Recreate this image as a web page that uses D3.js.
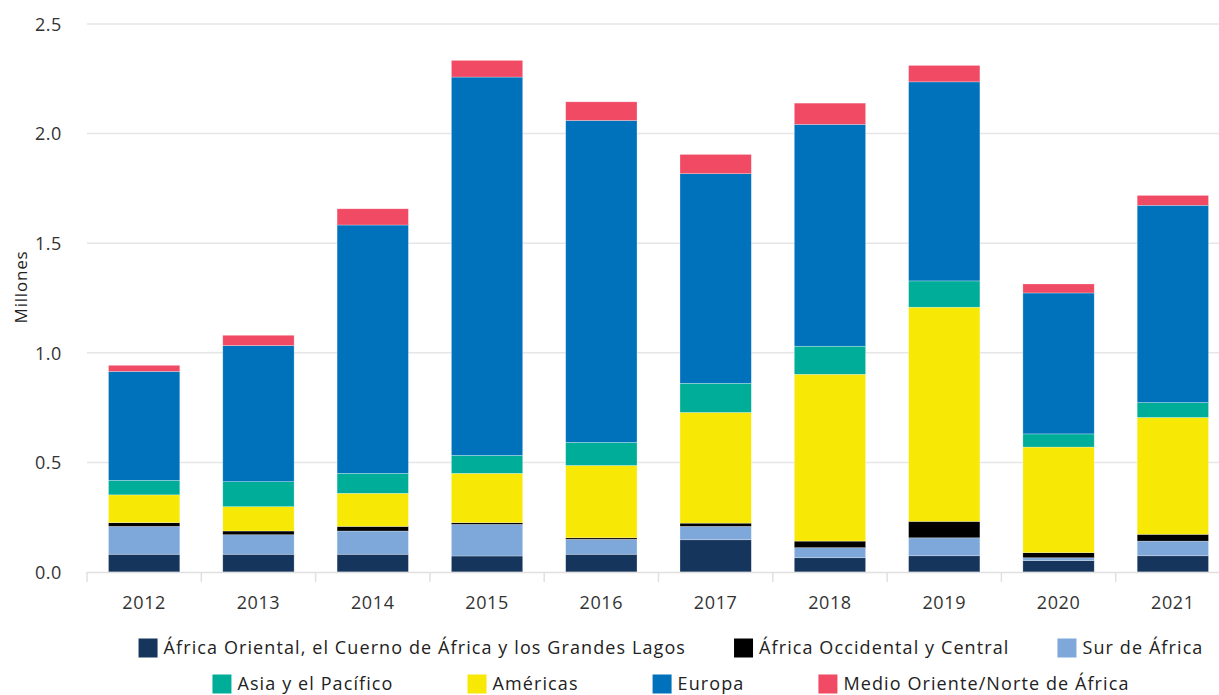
<!DOCTYPE html>
<html><head><meta charset="utf-8">
<script src="https://cdn.jsdelivr.net/npm/d3@7"></script>
<style>
html,body{margin:0;padding:0;background:#fff;}
svg{display:block;font-family:"Open Sans",Lato,sans-serif;}
</style></head>
<body>
<svg id="chart" width="1219" height="695"></svg>
<script>
const years = ["2012","2013","2014","2015","2016","2017","2018","2019","2020","2021"];
const seriesNames = [
  "África Oriental, el Cuerno de África y los Grandes Lagos",
  "África Occidental y Central",
  "Sur de África",
  "Asia y el Pacífico",
  "Américas",
  "Europa",
  "Medio Oriente/Norte de África"
];
const colors = ["#16355c","#000000","#7ea8d9","#00ad98","#f8e805","#0072bc","#f04a64"];
const africaOriental   = [0.081,0.081,0.081,0.073,0.081,0.147,0.065,0.074,0.052,0.074];
const africaOccidental = [0.017,0.017,0.021,0.008,0.007,0.015,0.030,0.075,0.023,0.031];
const surAfrica        = [0.127,0.089,0.106,0.144,0.068,0.061,0.046,0.082,0.013,0.067];
const asiaPacifico     = [0.066,0.114,0.091,0.082,0.105,0.133,0.128,0.120,0.060,0.068];
const americas         = [0.127,0.111,0.151,0.225,0.330,0.505,0.761,0.977,0.482,0.533];
const europa           = [0.497,0.621,1.133,1.726,1.469,0.956,1.012,0.908,0.643,0.900];
const medioOriente     = [0.028,0.047,0.074,0.076,0.085,0.088,0.097,0.075,0.041,0.045];
const yTicks = [0,0.5,1.0,1.5,2.0,2.5];
const yLabel = "Millones";

const seriesValues = [africaOriental, africaOccidental, surAfrica, asiaPacifico, americas, europa, medioOriente];
// stacking order bottom -> top (indices into seriesNames)
const stackOrder = [0,2,1,4,3,5,6];

const rows = years.map((yr,i)=>{
  const r = {year:yr};
  seriesNames.forEach((n,k)=>{ r[n] = seriesValues[k][i]; });
  return r;
});

const FONT = "'Open Sans', Lato, sans-serif";
const svg = d3.select("#chart");
const mLeft = 87, mRight = 1230, mTop = 24, mBottom = 572;

const x = d3.scaleBand().domain(years).range([mLeft,mRight]).paddingInner(0.376).paddingOuter(0.188);
const y = d3.scaleLinear().domain([0,2.5]).range([mBottom,mTop]);

// gridlines
svg.append("g").selectAll("line").data(yTicks.filter(d=>d>0)).join("line")
  .attr("x1",mLeft).attr("x2",1219)
  .attr("y1",d=>y(d)).attr("y2",d=>y(d))
  .attr("stroke","#e6e6e6").attr("stroke-width",1.5);

// y axis labels
const yAxis = d3.axisLeft(y).tickValues(yTicks).tickFormat(d3.format(".1f")).tickSize(0).tickPadding(0);
const yg = svg.append("g").attr("transform",`translate(62,0)`).call(yAxis);
yg.select(".domain").remove();
yg.selectAll("text").attr("font-size",18).attr("fill","#333").attr("font-family",FONT)
  .attr("letter-spacing",0.6).attr("dy","0.35em");

// y title
svg.append("text").attr("transform",`translate(27,287) rotate(-90)`)
  .attr("text-anchor","middle").attr("font-size",17).attr("letter-spacing",0.8)
  .attr("fill","#222").attr("font-family",FONT).text(yLabel);

// stacked bars
const stack = d3.stack().keys(stackOrder.map(k=>seriesNames[k]));
const stacked = stack(rows);
svg.append("g").selectAll("g").data(stacked).join("g")
  .attr("fill",d=>colors[seriesNames.indexOf(d.key)])
  .selectAll("rect").data(d=>d).join("rect")
  .attr("x",d=>x(d.data.year))
  .attr("width",x.bandwidth())
  .attr("y",d=>y(d[1]))
  .attr("height",d=>y(d[0])-y(d[1]))
  .attr("stroke","rgba(255,255,255,0.45)").attr("stroke-width",0.6);

// x axis
const step = x.step();
const xg = svg.append("g");
xg.append("line").attr("x1",mLeft).attr("x2",1219).attr("y1",mBottom+0.5).attr("y2",mBottom+0.5)
  .attr("stroke","#e0e0e0").attr("stroke-width",1.5);
const boundaries = d3.range(years.length+1).map(i=>mLeft+i*step);
xg.selectAll("line.tick").data(boundaries).join("line").attr("class","tick")
  .attr("x1",d=>d).attr("x2",d=>d).attr("y1",mBottom).attr("y2",mBottom+10)
  .attr("stroke","#e0e0e0").attr("stroke-width",1.5);
const xAxis = d3.axisBottom(x).tickSize(0).tickPadding(0);
const xag = svg.append("g").attr("transform",`translate(0,${mBottom})`).call(xAxis);
xag.select(".domain").remove();
xag.selectAll("text").attr("font-size",18).attr("fill","#333").attr("font-family",FONT)
  .attr("letter-spacing",0.6).attr("dy","0").attr("y",37);

// legend
const legendRows = [[0,1,2],[3,4,5,6]];
const rowY = [648, 684];
const rowGap = [48, 74];
const sw = 19, swGap = 6, centerX = 671;
legendRows.forEach((row,ri)=>{
  const g = svg.append("g");
  const items = row.map(k=>{
    const it = g.append("g");
    it.append("rect").attr("width",sw).attr("height",sw).attr("y",-sw/2).attr("fill",colors[k]);
    const t = it.append("text").attr("x",sw+swGap).attr("dy","0.35em").attr("font-size",18)
      .attr("letter-spacing",1.1).attr("fill","#222").attr("font-family",FONT).text(seriesNames[k]);
    return {it, w: sw+swGap+t.node().getComputedTextLength()};
  });
  const total = d3.sum(items,d=>d.w) + rowGap[ri]*(items.length-1);
  let cx = centerX - total/2;
  items.forEach(d=>{ d.it.attr("transform",`translate(${cx},${rowY[ri]})`); cx += d.w + rowGap[ri]; });
});
</script>
</body></html>
